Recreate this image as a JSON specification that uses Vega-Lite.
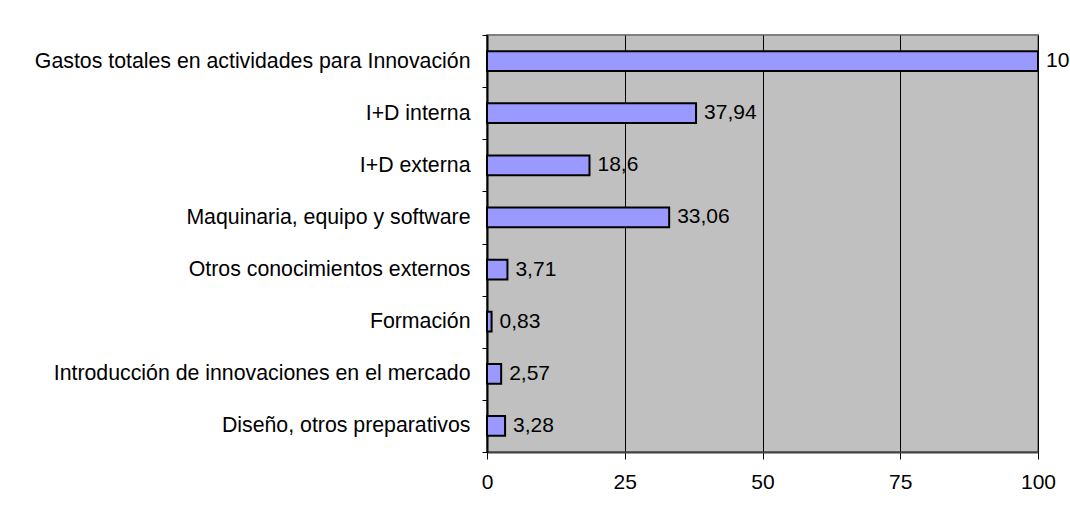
{
  "$schema": "https://vega.github.io/schema/vega-lite/v6.json",
  "width": 551,
  "height": 417,
  "autosize": {"type": "none"},
  "padding": {"left": 487, "top": 35, "right": 32, "bottom": 64},
  "background": "white",
  "config": {
    "font": "Liberation Sans",
    "view": {"fill": "#C0C0C0", "stroke": "#808080", "strokeWidth": 2}
  },
  "data": {
    "values": [
      {"categoria": "Gastos totales en actividades para Innovación", "valor": 100, "etiqueta": "100"},
      {"categoria": "I+D interna", "valor": 37.94, "etiqueta": "37,94"},
      {"categoria": "I+D externa", "valor": 18.6, "etiqueta": "18,6"},
      {"categoria": "Maquinaria, equipo y software", "valor": 33.06, "etiqueta": "33,06"},
      {"categoria": "Otros conocimientos externos", "valor": 3.71, "etiqueta": "3,71"},
      {"categoria": "Formación", "valor": 0.83, "etiqueta": "0,83"},
      {"categoria": "Introducción de innovaciones en el mercado", "valor": 2.57, "etiqueta": "2,57"},
      {"categoria": "Diseño, otros preparativos", "valor": 3.28, "etiqueta": "3,28"}
    ]
  },
  "encoding": {
    "y": {
      "field": "categoria",
      "type": "nominal",
      "sort": null,
      "scale": {"paddingInner": 0, "paddingOuter": 0},
      "axis": {
        "title": null,
        "tickBand": "extent",
        "tickSize": 5,
        "tickColor": "#000",
        "tickWidth": 1,
        "domainColor": "#000",
        "domainWidth": 2,
        "labelFontSize": 21.3,
        "labelColor": "#000",
        "labelPadding": 12,
        "labelLimit": 600,
        "grid": false
      }
    }
  },
  "layer": [
    {
      "mark": {"type": "bar", "fill": "#9999FF", "stroke": "#000", "strokeWidth": 2, "height": {"band": 0.38}},
      "encoding": {
        "x": {
          "field": "valor",
          "type": "quantitative",
          "scale": {"domain": [0, 100], "nice": false},
          "axis": {
            "title": null,
            "values": [0, 25, 50, 75, 100],
            "grid": true,
            "gridColor": "#000",
            "gridWidth": 1,
            "gridOpacity": 1,
            "tickSize": 7,
            "tickColor": "#000",
            "domainColor": "#404040",
            "domainWidth": 2,
            "labelFontSize": 21,
            "labelColor": "#000",
            "labelBaseline": "middle",
            "labelPadding": 23,
            "labelFlush": false
          }
        }
      }
    },
    {
      "mark": {"type": "text", "align": "left", "baseline": "middle", "dx": 8, "fontSize": 21, "color": "#000", "clip": false},
      "encoding": {
        "x": {"field": "valor", "type": "quantitative"},
        "text": {"field": "etiqueta", "type": "nominal"}
      }
    }
  ]
}
